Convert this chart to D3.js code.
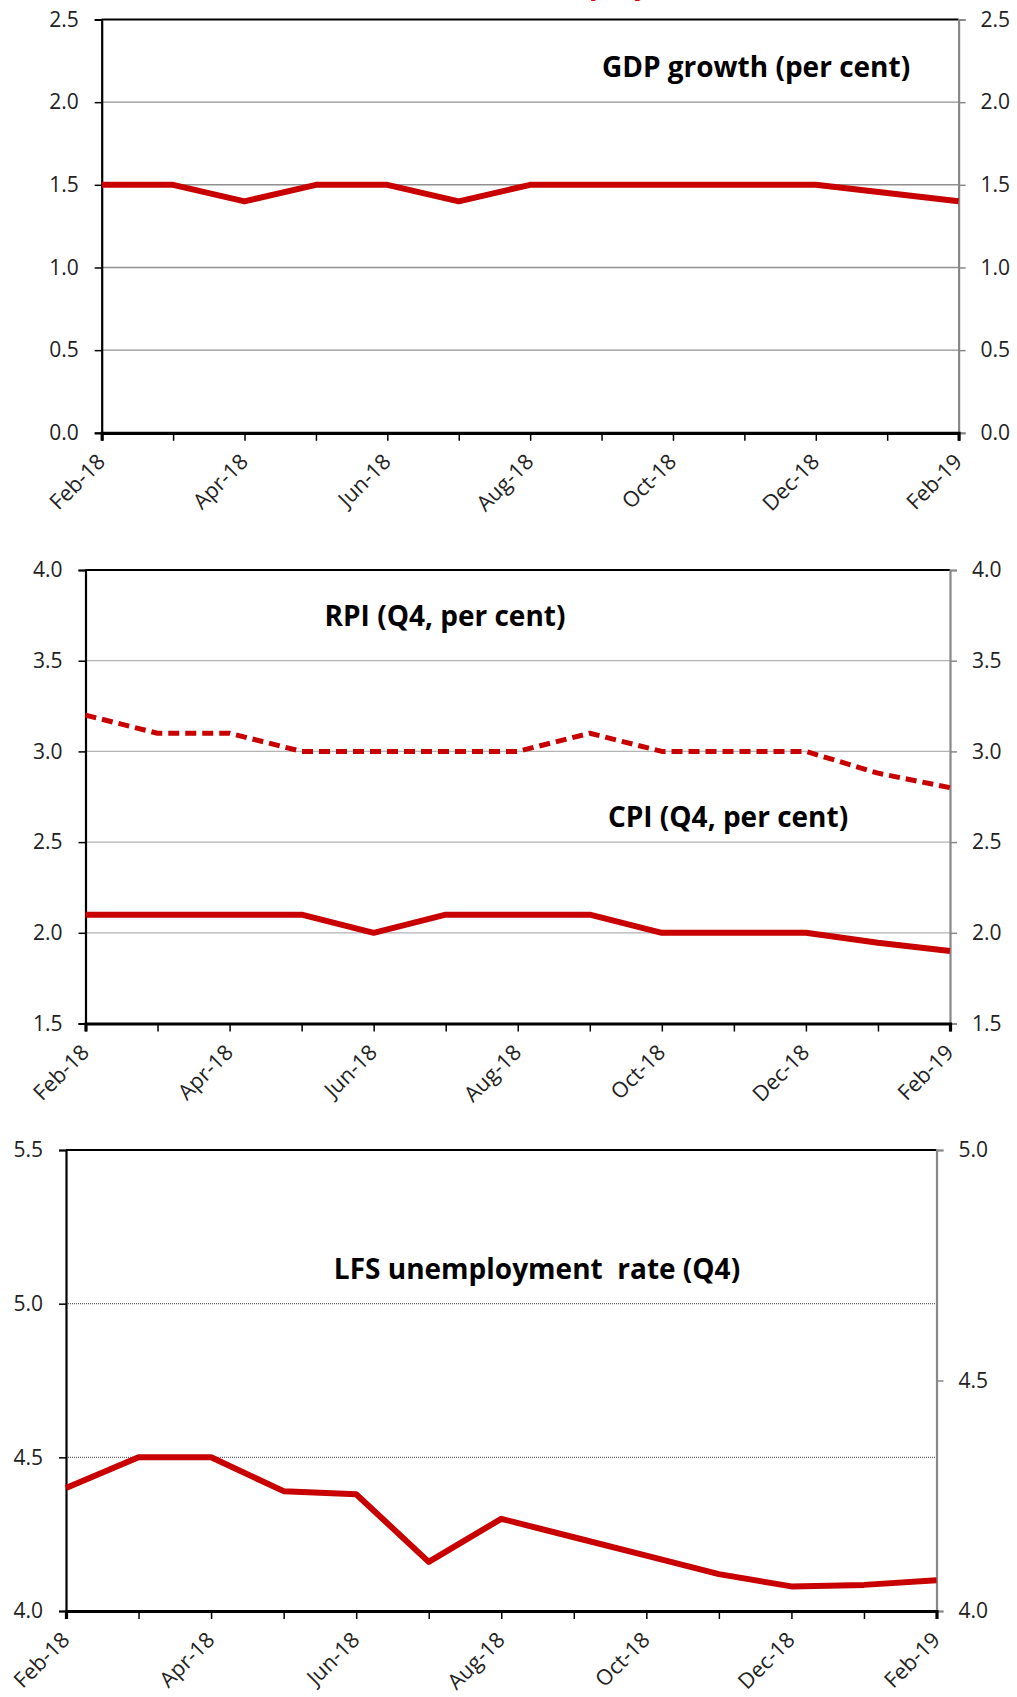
<!DOCTYPE html>
<html>
<head>
<meta charset="utf-8">
<script src="https://cdn.jsdelivr.net/npm/d3@7"></script>
<style>
  html, body { margin: 0; padding: 0; background: #fff; }
  svg { display: block; }
  text { font-family: "Open Sans", "Noto Sans", sans-serif; }
</style>
</head>
<body>
<svg id="chart" width="1017" height="1697"></svg>
<script>
// ---- Data ----
const months = ["Feb-18","Mar-18","Apr-18","May-18","Jun-18","Jul-18","Aug-18","Sep-18","Oct-18","Nov-18","Dec-18","Jan-19","Feb-19"];
const monthLabels = ["Feb-18","Apr-18","Jun-18","Aug-18","Oct-18","Dec-18","Feb-19"];

const gdpGrowth = [1.5, 1.5, 1.4, 1.5, 1.5, 1.4, 1.5, 1.5, 1.5, 1.5, 1.5, 1.45, 1.4];
const rpiQ4     = [3.2, 3.1, 3.1, 3.0, 3.0, 3.0, 3.0, 3.1, 3.0, 3.0, 3.0, 2.88, 2.8];
const cpiQ4     = [2.1, 2.1, 2.1, 2.1, 2.0, 2.1, 2.1, 2.1, 2.0, 2.0, 2.0, 1.945, 1.9];
const lfsQ4     = [4.4, 4.5, 4.5, 4.39, 4.38, 4.16, 4.3, 4.24, 4.18, 4.12, 4.08, 4.085, 4.1];

const ticks1 = [0, 0.5, 1.0, 1.5, 2.0, 2.5];
const ticks2 = [1.5, 2.0, 2.5, 3.0, 3.5, 4.0];
const ticks3Left = [4.0, 4.5, 5.0, 5.5];
const ticks3Right = [4.0, 4.5, 5.0];

const titles = ["GDP growth (per cent)", "RPI (Q4, per cent)", "CPI (Q4, per cent)", "LFS unemployment  rate (Q4)"];

// ---- Drawing ----
const svg = d3.select("#chart");
const RED = "#c80000";
const fmt = d3.format(".1f");

// clipped red heading at very top (only descenders visible, as in the reference)
svg.append("text").attr("x", 589).attr("y", -6)
  .attr("font-size", 28).attr("font-weight", "bold").attr("fill", "#e00000").text("p");
svg.append("text").attr("x", 634).attr("y", -6)
  .attr("font-size", 28).attr("font-weight", "bold").attr("fill", "#e00000").text("y");

function panel(cfg) {
  const g = svg.append("g");
  const x = d3.scalePoint().domain(months).range([cfg.left, cfg.right]);
  const y = d3.scaleLinear().domain(cfg.yDomain).range([cfg.bottom, cfg.top]);
  const yR = d3.scaleLinear().domain(cfg.yRDomain).range([cfg.bottom, cfg.top]);

  // gridlines
  g.append("g").selectAll("line").data(cfg.ticks.filter(t => t !== cfg.yDomain[0] && t !== cfg.yDomain[1]))
    .join("line")
    .attr("x1", cfg.left).attr("x2", cfg.right)
    .attr("y1", d => y(d)).attr("y2", d => y(d))
    .attr("stroke", cfg.dotted ? "#666" : "#909090")
    .attr("stroke-width", cfg.dotted ? 1.3 : 1.4)
    .attr("stroke-dasharray", cfg.dotted ? "1,1" : null);

  // top border
  g.append("line").attr("x1", cfg.left).attr("x2", cfg.right)
    .attr("y1", cfg.top).attr("y2", cfg.top)
    .attr("stroke", "#000").attr("stroke-width", 2.2);

  // right axis
  const ra = g.append("g").attr("transform", `translate(${cfg.right},0)`)
    .call(d3.axisRight(yR).tickValues(cfg.ticksR).tickFormat(fmt).tickSize(7).tickPadding(15));
  ra.select(".domain").attr("stroke", "#888").attr("stroke-width", 2.2);
  ra.selectAll(".tick line").attr("stroke", "#888").attr("stroke-width", 1.5);
  ra.selectAll("text").attr("font-size", 21).attr("fill", "#222")
    .attr("font-family", '"Open Sans", "Noto Sans", sans-serif');

  // left axis
  const la = g.append("g").attr("transform", `translate(${cfg.left},0)`)
    .call(d3.axisLeft(y).tickValues(cfg.ticks).tickFormat(fmt).tickSize(7).tickPadding(16));
  la.select(".domain").attr("stroke", "#000").attr("stroke-width", 2.2);
  la.selectAll(".tick line").attr("stroke", "#000").attr("stroke-width", 1.5);
  la.selectAll("text").attr("font-size", 21).attr("fill", "#222")
    .attr("font-family", '"Open Sans", "Noto Sans", sans-serif');

  // bottom axis
  const ba = g.append("g").attr("transform", `translate(0,${cfg.bottom})`)
    .call(d3.axisBottom(x).tickSize(8).tickFormat(d => monthLabels.includes(d) ? d : ""));
  ba.select(".domain").attr("stroke", "#000").attr("stroke-width", 3.2);
  ba.selectAll(".tick line").attr("stroke", "#000").attr("stroke-width", 1.5);
  ba.selectAll("text")
    .attr("font-size", 21.5).attr("fill", "#222")
    .attr("font-family", '"Open Sans", "Noto Sans", sans-serif')
    .attr("text-anchor", "end")
    .attr("x", 0).attr("y", 0).attr("dy", "0.35em")
    .attr("transform", "translate(-1,25) rotate(-45)");

  // series
  cfg.series.forEach(s => {
    const line = d3.line().x((d, i) => x(months[i])).y(d => y(d));
    g.append("path").datum(s.values)
      .attr("d", line)
      .attr("fill", "none")
      .attr("stroke", RED)
      .attr("stroke-width", s.dashed ? 5 : 6)
      .attr("stroke-linejoin", "round")
      .attr("stroke-dasharray", s.dashed ? "11,6" : null);
  });

  // labels
  cfg.labels.forEach(l => {
    g.append("text").attr("x", l.x).attr("y", l.y)
      .attr("text-anchor", "middle")
      .attr("font-size", 28).attr("font-weight", "bold").attr("fill", "#000")
      .style("white-space", "pre")
      .text(l.text);
  });
}

panel({
  left: 101.7, right: 958.6, top: 19.5, bottom: 432.8,
  yDomain: [0, 2.5], yRDomain: [0, 2.5], ticks: ticks1, ticksR: ticks1, dotted: false,
  series: [{ values: gdpGrowth }],
  labels: [{ text: titles[0], x: 756, y: 77 }]
});

panel({
  left: 85.5, right: 950, top: 570, bottom: 1023.5,
  yDomain: [1.5, 4.0], yRDomain: [1.5, 4.0], ticks: ticks2, ticksR: ticks2, dotted: true,
  series: [{ values: rpiQ4, dashed: true }, { values: cpiQ4 }],
  labels: [{ text: titles[1], x: 445, y: 626 }, { text: titles[2], x: 728, y: 827 }]
});

panel({
  left: 66, right: 936.5, top: 1150, bottom: 1611,
  yDomain: [4.0, 5.5], yRDomain: [4.0, 5.0], ticks: ticks3Left, ticksR: ticks3Right, dotted: true,
  series: [{ values: lfsQ4 }],
  labels: [{ text: titles[3], x: 537, y: 1279 }]
});
</script>
</body>
</html>
